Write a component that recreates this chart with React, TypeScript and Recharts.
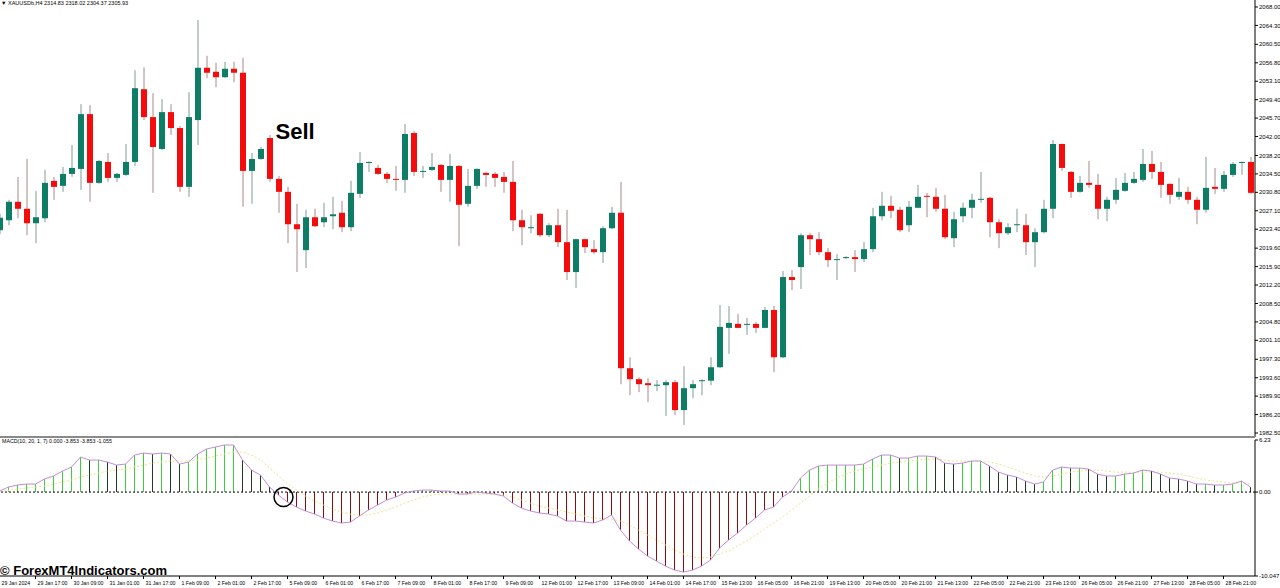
import React from "react";
import {
  ComposedChart,
  Bar,
  Line,
  XAxis,
  YAxis,
  ReferenceLine,
  ReferenceDot,
  Cell,
} from "recharts";

// XAUUSD H4, 29 Jan - 28 Feb 2024
const opens = [
  2023.2, 2025.2, 2028.9, 2027.5, 2024.6, 2025.6, 2033.1, 2032.1, 2034.5, 2035.5,
  2046.5, 2032.7, 2036.9, 2033.7, 2034.3, 2036.9, 2051.5, 2045.9, 2039.5, 2046.9,
  2043.7, 2031.9, 2045.3, 2055.8, 2055.0, 2053.9, 2055.6, 2054.8, 2035.1, 2037.5,
  2041.7, 2033.5, 2030.9, 2024.4, 2019.2, 2025.8, 2024.8, 2026.0, 2026.7, 2023.8,
  2030.5, 2036.7, 2035.7, 2034.5, 2033.5, 2033.3, 2042.7, 2034.9, 2035.3, 2036.3,
  2033.3, 2036.1, 2028.5, 2032.1, 2034.7, 2034.5, 2033.9, 2032.9, 2025.2, 2023.6,
  2026.5, 2022.2, 2024.2, 2020.8, 2014.8, 2021.4, 2019.4, 2018.8, 2023.6, 2026.7,
  1995.5, 1993.3, 1992.5, 1992.1, 1992.1, 1992.7, 1987.1, 1991.5, 1993.0, 1993.0,
  1995.7, 2003.6, 2004.4, 2004.2, 2004.4, 2003.6, 2007.2, 1997.7, 2013.8, 2015.8,
  2022.2, 2021.4, 2018.8, 2017.2, 2017.6, 2017.8, 2017.4, 2019.4, 2026.0, 2028.1,
  2027.3, 2024.2, 2027.7, 2030.1, 2029.9, 2027.5, 2021.6, 2026.0, 2027.7, 2029.3,
  2029.7, 2024.8, 2022.6, 2024.2, 2024.2, 2020.8, 2022.8, 2027.5, 2040.5, 2034.9,
  2030.9, 2032.7, 2032.3, 2027.5, 2029.3, 2031.1, 2032.7, 2033.3, 2036.5, 2034.9,
  2032.5, 2029.9, 2030.9, 2029.3, 2027.3, 2031.9, 2031.5, 2034.3, 2036.7, 2036.9,
];

const highs = [
  2026.5, 2029.3, 2033.9, 2037.5, 2031.1, 2035.3, 2033.9, 2035.9, 2040.3, 2048.5,
  2048.3, 2037.3, 2038.7, 2034.7, 2040.5, 2055.3, 2055.9, 2050.7, 2049.5, 2048.5,
  2044.1, 2050.9, 2065.4, 2058.2, 2056.8, 2057.0, 2057.0, 2057.8, 2038.7, 2039.9,
  2042.3, 2034.1, 2031.9, 2028.5, 2027.3, 2027.5, 2028.7, 2029.9, 2029.1, 2033.1,
  2038.9, 2037.0, 2036.3, 2034.9, 2036.1, 2044.5, 2043.1, 2036.1, 2038.7, 2036.5,
  2038.5, 2036.3, 2035.5, 2035.6, 2034.9, 2034.9, 2034.9, 2037.1, 2027.3, 2026.2,
  2026.6, 2024.6, 2027.5, 2027.3, 2021.5, 2021.5, 2021.2, 2024.0, 2027.9, 2032.9,
  1997.7, 1993.7, 1993.5, 1993.1, 1993.1, 1993.1, 1995.9, 1993.1, 1993.3, 1997.7,
  2008.2, 2008.0, 2006.4, 2005.6, 2004.8, 2007.8, 2008.0, 2015.0, 2015.2, 2022.6,
  2022.6, 2022.8, 2019.6, 2018.4, 2018.0, 2019.2, 2020.8, 2027.7, 2030.9, 2030.1,
  2027.9, 2029.1, 2032.3, 2030.7, 2031.7, 2030.3, 2026.9, 2028.7, 2030.5, 2034.9,
  2029.9, 2025.4, 2024.6, 2027.5, 2026.5, 2023.6, 2029.3, 2041.3, 2040.6, 2035.1,
  2034.1, 2037.1, 2034.5, 2029.9, 2033.7, 2034.7, 2034.9, 2039.5, 2039.1, 2036.9,
  2032.6, 2033.7, 2031.9, 2029.9, 2037.9, 2035.7, 2035.1, 2036.9, 2037.0, 2037.9,
];

const lows = [
  2022.4, 2024.2, 2025.6, 2022.2, 2020.6, 2024.8, 2029.3, 2030.9, 2033.9, 2031.3,
  2028.9, 2032.5, 2032.9, 2032.9, 2034.1, 2036.1, 2045.3, 2030.7, 2039.3, 2042.3,
  2030.9, 2029.9, 2040.3, 2053.7, 2051.9, 2053.8, 2052.9, 2027.9, 2028.5, 2037.3,
  2032.9, 2026.7, 2020.6, 2014.8, 2015.6, 2023.8, 2023.8, 2023.4, 2022.8, 2023.0,
  2029.7, 2034.9, 2034.3, 2032.7, 2031.1, 2030.7, 2034.1, 2033.7, 2035.1, 2030.9,
  2028.9, 2020.0, 2027.9, 2031.5, 2031.9, 2031.9, 2030.7, 2023.0, 2020.2, 2022.6,
  2021.8, 2021.8, 2019.8, 2013.2, 2011.6, 2018.6, 2018.4, 2016.6, 2023.4, 1992.3,
  1990.1, 1990.7, 1988.7, 1990.9, 1985.9, 1986.1, 1984.1, 1989.5, 1990.1, 1992.1,
  1995.5, 1998.4, 2003.5, 2002.2, 2002.6, 2003.5, 1994.7, 1997.5, 2011.2, 2011.4,
  2018.2, 2018.2, 2015.8, 2013.2, 2017.4, 2014.8, 2016.8, 2018.8, 2025.2, 2025.6,
  2022.8, 2022.8, 2027.6, 2025.8, 2026.9, 2021.4, 2019.8, 2024.8, 2025.6, 2028.7,
  2021.8, 2019.6, 2022.2, 2022.8, 2018.2, 2015.8, 2022.6, 2025.6, 2035.1, 2029.7,
  2030.7, 2031.7, 2025.4, 2025.0, 2028.5, 2030.9, 2032.5, 2032.9, 2033.5, 2029.7,
  2028.5, 2029.3, 2028.5, 2024.4, 2026.7, 2030.5, 2030.9, 2033.9, 2034.3, 2030.5,
];

const closes = [
  2025.7, 2028.9, 2027.5, 2024.6, 2025.8, 2032.7, 2031.9, 2034.5, 2035.7, 2046.5,
  2032.7, 2037.1, 2033.7, 2034.5, 2036.9, 2051.7, 2045.9, 2039.9, 2046.9, 2043.7,
  2031.9, 2045.9, 2055.8, 2054.8, 2053.9, 2055.6, 2054.8, 2035.1, 2037.5, 2039.5,
  2033.5, 2030.9, 2024.4, 2023.4, 2025.8, 2024.0, 2025.8, 2026.4, 2023.8, 2030.7,
  2036.7, 2036.9, 2034.5, 2033.5, 2033.3, 2042.5, 2034.9, 2035.1, 2035.9, 2033.3,
  2036.1, 2028.3, 2032.1, 2035.5, 2034.3, 2033.7, 2032.9, 2025.2, 2023.8, 2023.8,
  2022.2, 2024.2, 2020.8, 2014.8, 2021.4, 2019.8, 2018.8, 2023.6, 2026.7, 1995.5,
  1993.3, 1992.3, 1992.1, 1992.2, 1992.7, 1987.1, 1991.5, 1992.3, 1993.1, 1995.7,
  2003.8, 2004.6, 2003.6, 2004.4, 2003.6, 2007.2, 1997.7, 2013.8, 2013.2, 2022.2,
  2021.4, 2018.8, 2017.2, 2017.4, 2017.8, 2017.4, 2019.4, 2026.0, 2028.1, 2027.1,
  2023.2, 2027.9, 2029.9, 2029.9, 2027.5, 2021.8, 2025.4, 2027.7, 2029.3, 2029.5,
  2024.8, 2022.6, 2023.8, 2024.4, 2020.8, 2022.8, 2027.5, 2040.5, 2035.7, 2030.9,
  2032.7, 2032.3, 2027.5, 2029.3, 2031.3, 2032.7, 2033.5, 2036.5, 2034.9, 2032.3,
  2030.3, 2030.9, 2029.3, 2027.3, 2031.7, 2031.5, 2034.3, 2036.5, 2036.9, 2030.7,
];

// MACD(10, 20, 1, 7): main (histogram + line) and signal
const macdValues = [
  0.12, 0.6, 0.84, 0.96, 0.96, 1.56, 1.92, 2.51, 2.99, 4.19,
  3.83, 3.83, 3.59, 3.23, 3.35, 4.43, 4.67, 4.55, 4.67, 4.55,
  3.35, 3.59, 4.55, 5.15, 5.39, 5.63, 5.63, 3.83, 2.63, 2.03,
  0.6, -0.36, -1.2, -1.8, -2.27, -2.63, -3.11, -3.47, -3.71, -3.59,
  -2.87, -2.15, -1.56, -0.96, -0.6, -0.12, 0.12, 0.24, 0.24, 0.12,
  0.12, -0.24, -0.24, 0.02, -0.12, -0.24, -0.48, -1.32, -1.92, -2.27,
  -2.51, -2.63, -2.87, -3.47, -3.47, -3.59, -3.71, -3.35, -2.75, -4.55,
  -5.86, -6.82, -7.66, -8.26, -8.86, -9.34, -9.58, -9.34, -8.86, -8.14,
  -6.7, -5.75, -4.91, -3.95, -3.11, -2.15, -1.8, -0.6, 0.12, 1.68,
  2.63, 3.11, 3.23, 3.23, 3.23, 3.23, 3.35, 3.95, 4.43, 4.43,
  4.07, 4.07, 4.31, 4.31, 4.19, 3.47, 3.35, 3.47, 3.71, 3.71,
  3.11, 2.39, 2.03, 1.8, 1.32, 0.96, 1.2, 2.63, 2.99, 2.87,
  2.87, 2.75, 2.15, 1.92, 1.92, 2.15, 2.27, 2.63, 2.51, 2.15,
  1.68, 1.56, 1.32, 0.96, 0.96, 0.84, 0.84, 0.96, 1.32, 0.6,
];

const signalValues = [
  0.12, 0.24, 0.36, 0.48, 0.6, 0.72, 0.96, 1.2, 1.44, 1.8,
  2.03, 2.27, 2.51, 2.63, 2.75, 2.99, 3.23, 3.47, 3.59, 3.71,
  3.71, 3.71, 3.83, 4.07, 4.31, 4.55, 4.79, 4.79, 4.43, 3.83,
  2.87, 1.92, 0.96, 0.24, -0.48, -1.08, -1.56, -2.03, -2.39, -2.63,
  -2.75, -2.75, -2.51, -2.15, -1.8, -1.32, -0.96, -0.6, -0.36, -0.24,
  -0.24, -0.24, -0.24, -0.24, -0.24, -0.24, -0.36, -0.6, -0.96, -1.32,
  -1.68, -1.92, -2.15, -2.39, -2.63, -2.87, -3.11, -3.23, -3.23, -3.47,
  -3.95, -4.55, -5.15, -5.75, -6.34, -6.94, -7.42, -7.78, -7.9, -7.78,
  -7.42, -7.06, -6.46, -5.86, -5.15, -4.43, -3.71, -2.99, -2.15, -1.32,
  -0.48, 0.36, 1.08, 1.68, 2.15, 2.51, 2.75, 2.99, 3.23, 3.47,
  3.59, 3.71, 3.83, 3.95, 3.95, 3.83, 3.71, 3.71, 3.71, 3.71,
  3.59, 3.35, 2.99, 2.63, 2.27, 1.92, 1.8, 1.92, 2.15, 2.39,
  2.51, 2.63, 2.63, 2.51, 2.39, 2.39, 2.39, 2.39, 2.39, 2.39,
  2.27, 2.15, 1.92, 1.68, 1.44, 1.32, 1.2, 1.08, 1.08, 0.96,
];

// one label every 4 bars
const dateLabels = [
  "29 Jan 2024", "29 Jan 17:00", "30 Jan 09:00", "31 Jan 01:00", "31 Jan 17:00",
  "1 Feb 09:00", "2 Feb 01:00", "2 Feb 17:00", "5 Feb 09:00", "6 Feb 01:00",
  "6 Feb 17:00", "7 Feb 09:00", "8 Feb 01:00", "8 Feb 17:00", "9 Feb 09:00",
  "12 Feb 01:00", "12 Feb 17:00", "13 Feb 09:00", "14 Feb 01:00", "14 Feb 17:00",
  "15 Feb 13:00", "16 Feb 05:00", "16 Feb 21:00", "19 Feb 13:00", "20 Feb 05:00",
  "20 Feb 21:00", "21 Feb 13:00", "22 Feb 05:00", "22 Feb 21:00", "23 Feb 13:00",
  "26 Feb 05:00", "26 Feb 21:00", "27 Feb 13:00", "28 Feb 05:00", "28 Feb 21:00",
];

const priceTicks = [
  2068.0, 2064.3, 2060.5, 2056.8, 2053.1, 2049.4, 2045.7, 2042.0, 2038.2, 2034.5,
  2030.8, 2027.1, 2023.4, 2019.6, 2015.9, 2012.2, 2008.5, 2004.8, 2001.1, 1997.3,
  1993.6, 1989.9, 1986.2, 1982.5,
];
const macdTicks = [6.23, 0, -10.047];
const macdTickLabels = ["6.23", "0.00", "-10.047"];

const FONT = "'Liberation Sans', Arial, sans-serif";
const UP = "#0e7d66";
const DOWN = "#f40b0b";
const WICK_UP = "#7f9c92";
const WICK_DOWN = "#a88888";
const LIME = "#3ccf3c";
const DARK_GREEN = "#1d3d1d";
const MAROON = "#8a0d0d";

const candles = opens.map((o, i) => ({
  i,
  open: o,
  high: highs[i],
  low: lows[i],
  close: closes[i],
}));

const macdRows = macdValues.map((m, i) => ({ i, macd: m, signal: signalValues[i] }));

function histColor(i: number) {
  const v = macdValues[i];
  const prev = i > 0 ? macdValues[i - 1] : v;
  if (v >= 0) return v >= prev ? LIME : DARK_GREEN;
  return MAROON;
}

const Candle = (props: any) => {
  const { x, y, width, height, payload } = props;
  if (!payload) return null;
  const { open, close, high, low } = payload;
  const top = Math.min(y, y + height);
  const h = Math.abs(height);
  const k = high > low ? h / (high - low) : 0;
  const cx = x + width / 2;
  const yO = top + (high - open) * k;
  const yC = top + (high - close) * k;
  const up = close >= open;
  const bodyTop = Math.min(yO, yC);
  const bodyH = Math.max(1, Math.abs(yO - yC));
  return (
    <g>
      <line x1={cx} x2={cx} y1={top} y2={top + h} stroke={up ? WICK_UP : WICK_DOWN} strokeWidth={1} />
      <rect x={Math.round(x)} y={bodyTop} width={width} height={bodyH} fill={up ? UP : DOWN} />
    </g>
  );
};

const DateTick = (props: any) => {
  const { x, y, payload } = props;
  const i = Number(payload.value);
  if (i % 4 !== 0) return <g />;
  return (
    <g>
      <line x1={x} x2={x} y1={y} y2={y + 3} stroke="#000" strokeWidth={1} />
      <text x={x + 2} y={y + 9} fontSize={5.2} fill="#000" fontFamily={FONT}>
        {dateLabels[i / 4]}
      </text>
    </g>
  );
};

export default function App() {
  return (
    <div
      style={{
        position: "fixed",
        left: 0,
        top: 0,
        width: 1280,
        height: 588,
        overflow: "hidden",
        background: "#fff",
      }}
    >
      <div style={{ position: "absolute", left: -5, top: 0 }}>
        <ComposedChart width={1285} height={437} data={candles} margin={{ top: 0, right: 0, bottom: 0, left: 0 }}>
          <XAxis dataKey="i" hide />
          <YAxis
            orientation="right"
            width={25}
            domain={[1981.7, 2069.4]}
            ticks={priceTicks}
            allowDataOverflow
            interval={0}
            axisLine={{ stroke: "#000" }}
            tickLine={{ stroke: "#000" }}
            tickSize={3}
            tickMargin={1}
            tick={{ fontSize: 6, fill: "#000", fontFamily: FONT }}
            tickFormatter={(v: number) => v.toFixed(2)}
          />
          <Bar
            dataKey={(d: any) => [d.low, d.high]}
            barSize={6}
            shape={(p: any) => <Candle {...p} />}
            isAnimationActive={false}
          />
          <ReferenceDot
            x={30}
            y={highs[30]}
            r={0}
            ifOverflow="visible"
            shape={(p: any) => (
              <text x={p.cx + 6} y={p.cy + 4} fontSize={22} fontWeight="bold" fill="#000" fontFamily={FONT}>
                Sell
              </text>
            )}
          />
        </ComposedChart>
      </div>

      <div style={{ position: "absolute", left: 0, top: 436, width: 1255, height: 2, background: "#8a8a8a" }} />

      <div style={{ position: "absolute", left: -5, top: 437 }}>
        <ComposedChart width={1285} height={151} data={macdRows} margin={{ top: 3, right: 0, bottom: 0, left: 0 }}>
          <XAxis
            dataKey="i"
            height={12}
            interval={0}
            tickLine={false}
            tickSize={0}
            tickMargin={0}
            axisLine={{ stroke: "#000" }}
            tick={(p: any) => <DateTick {...p} />}
          />
          <YAxis
            orientation="right"
            width={25}
            domain={[-10.047, 6.23]}
            ticks={macdTicks}
            allowDataOverflow
            interval={0}
            axisLine={{ stroke: "#000" }}
            tickLine={{ stroke: "#000" }}
            tickSize={3}
            tickMargin={1}
            tick={{ fontSize: 6, fill: "#000", fontFamily: FONT }}
            tickFormatter={(v: number) => macdTickLabels[macdTicks.indexOf(v)] ?? String(v)}
          />
          <ReferenceLine y={0} stroke="#000" strokeDasharray="2 2" strokeWidth={1} />
          <Bar dataKey="macd" barSize={1} isAnimationActive={false}>
            {macdRows.map((r) => (
              <Cell key={r.i} fill={histColor(r.i)} />
            ))}
          </Bar>
          <Line
            dataKey="signal"
            type="linear"
            stroke="#eee48a"
            strokeDasharray="2 2"
            strokeWidth={1}
            dot={false}
            isAnimationActive={false}
          />
          <Line
            dataKey="macd"
            type="linear"
            stroke="#c48cd4"
            strokeWidth={1}
            dot={false}
            isAnimationActive={false}
          />
          <ReferenceDot
            x={31}
            y={-0.6}
            r={0}
            ifOverflow="visible"
            shape={(p: any) => (
              <circle cx={p.cx + 5} cy={p.cy} r={9.5} fill="none" stroke="#000" strokeWidth={1.5} />
            )}
          />
        </ComposedChart>
      </div>

      <svg
        width={1280}
        height={588}
        style={{ position: "absolute", left: 0, top: 0, pointerEvents: "none" }}
      >
        <text x={1} y={5} fontSize={5.5} fill="#000" fontFamily={FONT}>
          ▼ XAUUSDb,H4  2314.83 2318.02 2304.37 2305.93
        </text>
        <text x={2} y={443} fontSize={5.3} fill="#000" fontFamily={FONT}>
          MACD(10, 20, 1, 7) 0.000 -3.853 -3.853 -1.055
        </text>
        <text x={0} y={575} fontSize={13} fontWeight="bold" fill="#000" fontFamily={FONT}>
          © ForexMT4Indicators.com
        </text>
      </svg>
    </div>
  );
}
